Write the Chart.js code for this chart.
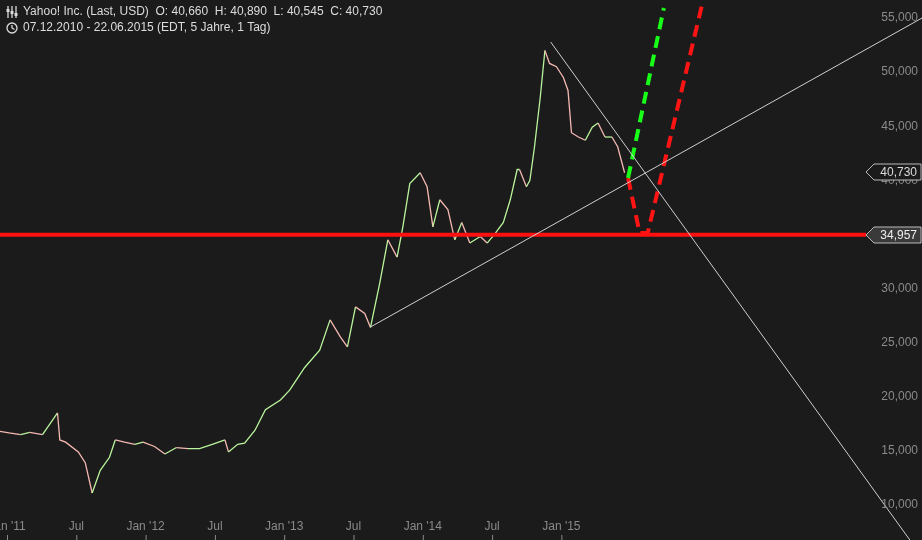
<!DOCTYPE html>
<html><head><meta charset="utf-8">
<script src="https://cdn.jsdelivr.net/npm/chart.js@4"></script>
<style>html,body{margin:0;background:#1c1b1b;}#wrap{width:922px;height:540px;}</style>
</head><body><div id="wrap"><canvas id="c"></canvas></div>
<script>
// months since Jan 2011, closing prices
const months = [-0.8,0,1.0,1.8,2.9,4.2,4.4,4.9,6.0,6.6,7.2,7.9,8.7,9.2,10.0,10.9,11.6,12.6,13.5,14.5,15.5,16.5,17.6,18.7,19.0,19.8,20.4,21.3,22.2,23.5,24.3,25.6,26.9,27.8,28.7,29.3,30.0,30.8,31.3,32.1,32.8,33.6,34.1,34.7,35.6,36.2,36.7,37.3,38.0,38.6,39.2,39.9,40.8,41.4,42.1,42.8,43.4,44.0,44.2,44.8,45.1,45.5,46.0,46.4,46.8,47.4,48.0,48.4,48.7,49.3,49.9,50.5,51.0,51.6,52.2,52.7,53.3];
const closes = [16800,16650,16500,16700,16500,18500,16000,15800,14900,13900,11100,13200,14400,16000,15800,15600,15800,15400,14700,15300,15200,15200,15600,16000,14900,15600,15700,16900,18800,19700,20600,22700,24300,27100,25500,24600,28300,27700,26400,30500,34500,32900,35700,39700,40700,39400,35700,38200,37300,34500,36100,34200,34800,34200,35100,36100,38200,41000,41000,39400,40000,43100,47700,52000,50800,50500,49500,48300,44400,44000,43700,44900,45300,44000,44000,43100,40700];
const tickMonths = [0,6,12,18,24,30,36,42,48];
const tickLabels = ["Jan '11","Jul","Jan '12","Jul","Jan '13","Jul","Jan '14","Jul","Jan '15"];
const yTicks = [10000,15000,20000,25000,30000,35000,40000,45000,50000,55000];
const support = 34957, lastClose = 40730;
const trendUp = [[31.3,26442],[79.05,55000]];
const trendDown = [[46.9,52782],[78.0,6756]];
const greenPath = [[53.6,40213],[56.7,55924]];
const redPath = [[53.6,40213],[54.6,35130],[55.3,35130],[60.0,56200]];

const pts = a => a.map(p => ({x:p[0], y:p[1]}));
const price = months.map((m,i) => ({x:m, y:closes[i]}));
const FONT = '"Liberation Sans", Arial, sans-serif';

const overlay = {
  id:'overlay',
  afterDraw(chart){
    const ctx = chart.ctx, xs = chart.scales.x, ys = chart.scales.y;
    ctx.save();
    ctx.font = '12px ' + FONT;
    ctx.fillStyle = '#8a8a8a'; ctx.strokeStyle = '#8a8a8a';
    ctx.textAlign = 'center'; ctx.textBaseline = 'middle';
    tickMonths.forEach((m,i) => {
      const x = xs.getPixelForValue(m) - 2;
      ctx.fillText(tickLabels[i], x, 527);
      ctx.beginPath(); ctx.moveTo(x+0.5,535); ctx.lineTo(x+0.5,540); ctx.stroke();
    });
    ctx.textAlign = 'right';
    yTicks.forEach(v => ctx.fillText(v.toLocaleString('en-US'), 918, ys.getPixelForValue(v)));
    // price boxes on the right
    [[lastClose,'#1c1b1b','#ddd'],[support,'#3a3a3a','#eee']].forEach(([v,bg,fg]) => {
      const y = Math.round(ys.getPixelForValue(v));
      ctx.beginPath();
      ctx.moveTo(866,y); ctx.lineTo(874,y-8); ctx.lineTo(921,y-8); ctx.lineTo(921,y+8); ctx.lineTo(874,y+8); ctx.closePath();
      ctx.fillStyle = bg; ctx.fill(); ctx.strokeStyle = '#bbb'; ctx.lineWidth = 1; ctx.stroke();
      ctx.fillStyle = fg; ctx.textAlign = 'right';
      ctx.fillText(v.toLocaleString('en-US'), 917, y+0.5);
    });
    // header
    ctx.textAlign = 'left'; ctx.fillStyle = '#dcdcdc';
    ctx.font = '12px ' + FONT;
    ctx.fillText('Yahoo! Inc. (Last, USD)  O: 40,660  H: 40,890  L: 40,545  C: 40,730', 23, 12);
    ctx.fillText('07.12.2010 - 22.06.2015 (EDT, 5 Jahre, 1 Tag)', 23, 28);
    ctx.strokeStyle = '#dcdcdc'; ctx.lineWidth = 1.3;
    [8,12,16].forEach((x,i) => { ctx.beginPath(); ctx.moveTo(x,6); ctx.lineTo(x,18); ctx.stroke(); ctx.fillRect(x-1.5,9+i*2,3,3); });
    ctx.beginPath(); ctx.arc(12,28,5,0,Math.PI*2); ctx.stroke();
    ctx.beginPath(); ctx.moveTo(12,25); ctx.lineTo(12,28); ctx.lineTo(14.5,29.5); ctx.stroke();
    ctx.restore();
  }
};

new Chart(document.getElementById('c'), {
  type:'scatter',
  data:{datasets:[
    {data:pts(trendUp), showLine:true, borderColor:'#cfcfcf', borderWidth:1, pointRadius:0},
    {data:pts(trendDown), showLine:true, borderColor:'#cfcfcf', borderWidth:1, pointRadius:0},
    {data:[{x:-0.8,y:support},{x:74.2,y:support}], showLine:true, borderColor:'#ff1010', borderWidth:4, pointRadius:0},
    {data:price, showLine:true, borderWidth:1.3, pointRadius:0, borderColor:'#b9f59c',
      segment:{borderColor: c => c.p1.parsed.y >= c.p0.parsed.y ? '#b9f59c' : '#f4b8b2'}},
    {data:pts(greenPath), showLine:true, borderColor:'#18ff18', borderWidth:4, borderDash:[12,7], pointRadius:0},
    {data:pts(redPath), showLine:true, borderColor:'#ff1414', borderWidth:4, borderDash:[12,7], pointRadius:0}
  ]},
  options:{
    responsive:true, maintainAspectRatio:false, animation:false,
    layout:{padding:0},
    plugins:{legend:{display:false}, tooltip:{enabled:false}},
    scales:{
      x:{type:'linear', min:-0.78, max:79.05, display:false},
      y:{min:6756, max:56664, display:false}
    }
  },
  plugins:[overlay]
});
</script></body></html>
